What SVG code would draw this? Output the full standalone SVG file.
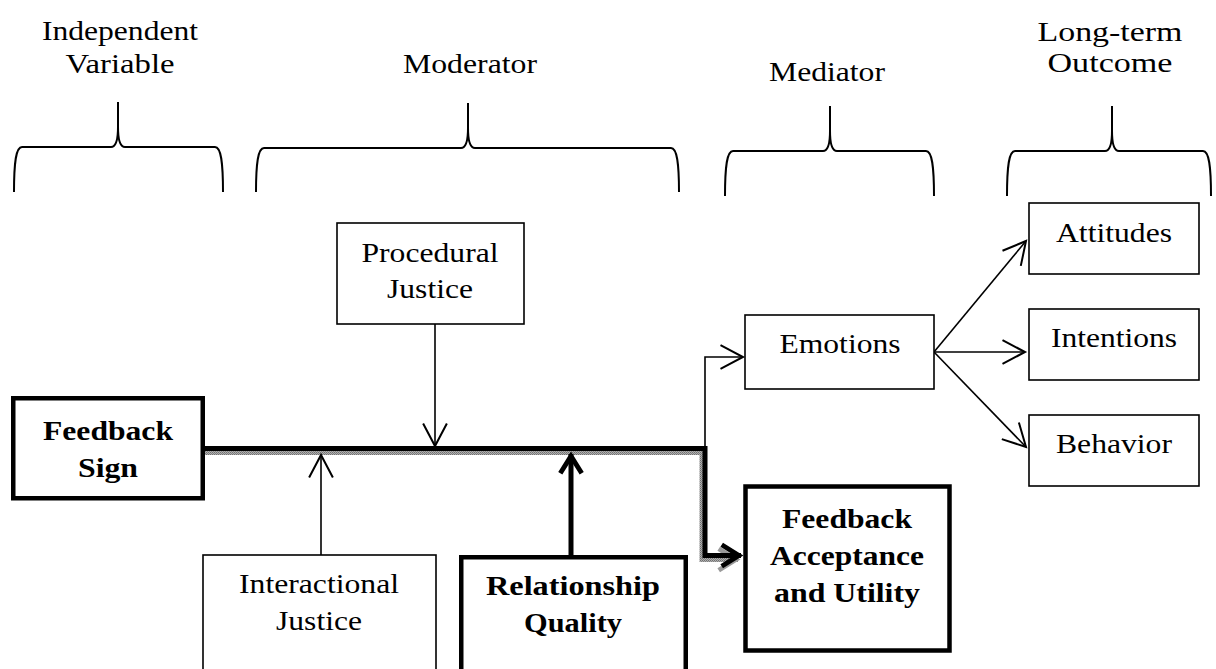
<svg xmlns="http://www.w3.org/2000/svg" width="1216" height="669" viewBox="0 0 1216 669">
<style>
text{font-family:"Liberation Serif","Times New Roman",serif;font-size:27px;fill:#000;text-anchor:middle}
.b{font-weight:bold}
.brace{fill:none;stroke:#000;stroke-width:2}
.thin{fill:#fff;stroke:#000;stroke-width:1.6}
.thick{fill:#fff;stroke:#000;stroke-width:4.5}
.line{fill:none;stroke:#000;stroke-width:1.6}
.tline{fill:none;stroke:#000;stroke-width:5}
.shadow{fill:none;stroke:url(#hatch);stroke-width:5}
</style>
<defs>
<pattern id="hatch" width="2" height="2" patternUnits="userSpaceOnUse">
<rect width="2" height="2" fill="#b0b0b0"/>
<rect width="1" height="1" fill="#707070"/>
<rect x="1" y="1" width="1" height="1" fill="#808080"/>
</pattern>
<marker id="arr" markerUnits="userSpaceOnUse" markerWidth="30" markerHeight="30" viewBox="-20 -12 22 24" refX="0" refY="0" orient="auto" overflow="visible">
<path d="M-18,-9.5 L0,0 L-18,9.5" fill="none" stroke="#000" stroke-width="1.6"/>
</marker>
<marker id="arrT" markerUnits="userSpaceOnUse" markerWidth="30" markerHeight="30" viewBox="-22 -14 24 28" refX="0" refY="0" orient="auto" overflow="visible">
<path d="M-18,-10 L-2,0 L-18,10" fill="none" stroke="#000" stroke-width="4.5"/>
</marker>
<marker id="arrS" markerUnits="userSpaceOnUse" markerWidth="30" markerHeight="30" viewBox="-22 -14 24 28" refX="0" refY="0" orient="auto" overflow="visible">
<path d="M-18,-10 L-2,0 L-18,10" fill="none" stroke="#9a9a9a" stroke-width="4.5"/>
</marker>
</defs>

<g id="headers">
<text x="120" y="40" textLength="156" lengthAdjust="spacingAndGlyphs">Independent</text>
<text x="120" y="73" textLength="109" lengthAdjust="spacingAndGlyphs">Variable</text>
<text x="470" y="73" textLength="134" lengthAdjust="spacingAndGlyphs">Moderator</text>
<text x="827" y="81" textLength="116" lengthAdjust="spacingAndGlyphs">Mediator</text>
<text x="1110" y="41" textLength="145" lengthAdjust="spacingAndGlyphs">Long-term</text>
<text x="1110" y="72" textLength="125" lengthAdjust="spacingAndGlyphs">Outcome</text>
</g>

<g id="braces">
<path class="brace" d="M14,192 C14,162 16,147 22,147 L111,147 C116,147 118,140 118,127 L118,102 M118,127 C118,140 120,147 125,147 L215,147 C221,147 223,162 223,192"/>
<path class="brace" d="M256,192 C256,163 258,148 264,148 L461,148 C466,148 468,141 468,128 L468,103 M468,128 C468,141 470,148 475,148 L671,148 C677,148 679,163 679,192"/>
<path class="brace" d="M725,196 C725,166 727,151 733,151 L823,151 C828,151 830,144 830,131 L830,106 M830,131 C830,144 832,151 837,151 L926,151 C932,151 934,166 934,196"/>
<path class="brace" d="M1007,196 C1007,166 1009,151 1015,151 L1105,151 C1110,151 1112,144 1112,131 L1112,106 M1112,131 C1112,144 1114,151 1119,151 L1203,151 C1209,151 1211,166 1211,196"/>
</g>

<g id="connectors">
<path class="shadow" d="M205,452.5 L702,452.5 L702,559.5 L738,559.5" marker-end="url(#arrS)"/>
<path class="tline" d="M205,448.5 L705,448.5 L705,555.5 L741,555.5" marker-end="url(#arrT)"/>
<path class="line" d="M435,324 L435,446" marker-end="url(#arr)"/>
<path class="line" d="M321,555 L321,455" marker-end="url(#arr)"/>
<path class="tline" d="M571,555 L571,454" stroke-width="4.5" marker-end="url(#arrT)"/>
<path class="line" d="M705,446 L705,357 L743,357" marker-end="url(#arr)"/>
<path class="line" d="M934,352 L1026,241" marker-end="url(#arr)"/>
<path class="line" d="M934,352 L1025,352" marker-end="url(#arr)"/>
<path class="line" d="M934,352 L1026,447" marker-end="url(#arr)"/>
</g>

<g id="feedback-sign">
<rect class="thick" x="13.25" y="398.25" width="189.5" height="100"/>
<text class="b" x="108" y="440" textLength="130" lengthAdjust="spacingAndGlyphs">Feedback</text>
<text class="b" x="108" y="477" textLength="60" lengthAdjust="spacingAndGlyphs">Sign</text>
</g>

<g id="procedural-justice">
<rect class="thin" x="337" y="223" width="187" height="101"/>
<text x="430" y="262" textLength="137" lengthAdjust="spacingAndGlyphs">Procedural</text>
<text x="430" y="298" textLength="86" lengthAdjust="spacingAndGlyphs">Justice</text>
</g>

<g id="interactional-justice">
<rect class="thin" x="203" y="555" width="233" height="130"/>
<text x="319" y="593" textLength="160" lengthAdjust="spacingAndGlyphs">Interactional</text>
<text x="319" y="630" textLength="86" lengthAdjust="spacingAndGlyphs">Justice</text>
</g>

<g id="relationship-quality">
<rect class="thick" x="461.25" y="557.25" width="224.5" height="130"/>
<text class="b" x="573" y="595" textLength="174" lengthAdjust="spacingAndGlyphs">Relationship</text>
<text class="b" x="573" y="632" textLength="98" lengthAdjust="spacingAndGlyphs">Quality</text>
</g>

<g id="feedback-acceptance">
<rect class="thick" x="745.5" y="486.5" width="204" height="164" stroke-width="5"/>
<text class="b" x="847" y="528" textLength="130" lengthAdjust="spacingAndGlyphs">Feedback</text>
<text class="b" x="847" y="565" textLength="154" lengthAdjust="spacingAndGlyphs">Acceptance</text>
<text class="b" x="847" y="602" textLength="146" lengthAdjust="spacingAndGlyphs">and Utility</text>
</g>

<g id="emotions">
<rect class="thin" x="745" y="315" width="189" height="74"/>
<text x="840" y="353" textLength="121" lengthAdjust="spacingAndGlyphs">Emotions</text>
</g>

<g id="attitudes">
<rect class="thin" x="1029" y="203" width="170" height="71"/>
<text x="1114" y="242" textLength="116" lengthAdjust="spacingAndGlyphs">Attitudes</text>
</g>

<g id="intentions">
<rect class="thin" x="1029" y="309" width="170" height="71"/>
<text x="1114" y="347" textLength="126" lengthAdjust="spacingAndGlyphs">Intentions</text>
</g>

<g id="behavior">
<rect class="thin" x="1029" y="415" width="170" height="71"/>
<text x="1114" y="453" textLength="116" lengthAdjust="spacingAndGlyphs">Behavior</text>
</g>
</svg>
